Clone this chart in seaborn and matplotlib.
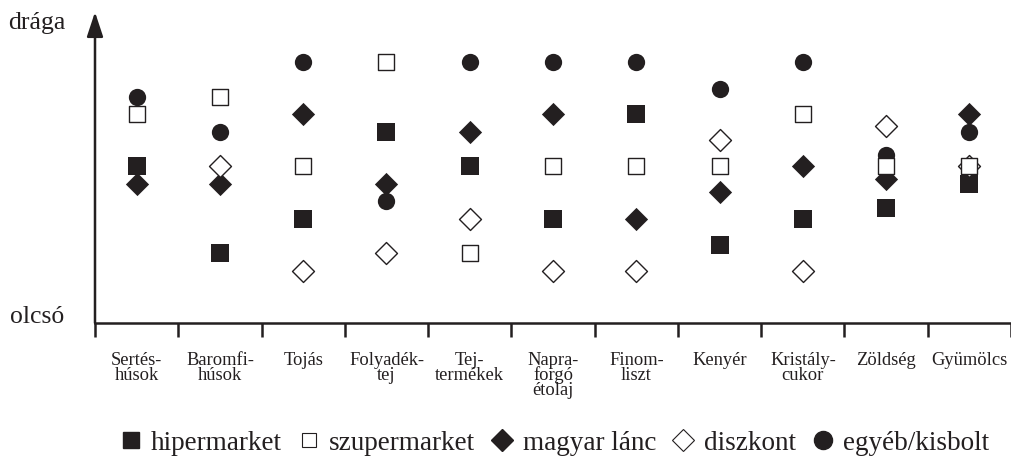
import numpy as np
import pandas as pd
import matplotlib
matplotlib.use("Agg")
import matplotlib.pyplot as plt
from matplotlib.lines import Line2D
import seaborn as sns

# price level of each store type per product group (1 = cheapest row, 13 = most expensive row)
categories = ["Sertés-\nhúsok", "Baromfi-\nhúsok", "Tojás", "Folyadék-\ntej",
              "Tej-\ntermékek", "Napra-\nforgó\nétolaj", "Finom-\nliszt", "Kenyér",
              "Kristály-\ncukor", "Zöldség", "Gyümölcs"]
hipermarket  = [7, 2, 4, 9, 7, 4, 10, 2.5, 4, 4.6, 6]
szupermarket = [10, 11, 7, 13, 2, 7, 7, 7, 10, 7, 7]
magyar_lanc  = [6, 6, 10, 6, 9, 10, 4, 5.5, 7, 6.3, 10]
diszkont     = [np.nan, 7, 1, 2, 4, 1, 1, 8.5, 1, 9.3, 7]
egyeb        = [11, 9, 13, 5, 13, 13, 13, 11.45, 13, 7.65, 9]

INK = "#231f20"

sns.set_theme(style="white")
plt.rcParams["font.family"] = ["Liberation Serif", "DejaVu Serif"]

# drawing order: open square last so it sits on top
series = [
    ("hipermarket",    hipermarket,  "s", INK,     155),
    ("magyar lánc",    magyar_lanc,  "D", INK,     140),
    ("diszkont",       diszkont,     "D", "white", 125),
    ("egyéb/kisbolt",  egyeb,        "o", INK,     155),
    ("szupermarket",   szupermarket, "s", "white", 125),
]

fig = plt.figure(figsize=(10.11, 4.62), dpi=100)
ax = fig.add_axes([95 / 1011, (462 - 323) / 462, 1 - 95 / 1011, (323 - 12) / 462])

x = np.arange(len(categories))
for name, vals, marker, face, size in series:
    df = pd.DataFrame({"x": x, "y": vals}).dropna()
    sns.scatterplot(data=df, x="x", y="y", marker=marker, s=size, color=face,
                    edgecolor=INK, linewidth=0 if face == INK else 1.0,
                    ax=ax, legend=False, clip_on=False)

ax.set_xlim(-0.5, len(categories) - 0.5)
ax.set_ylim(-2.0, 15.87)
ax.set_xlabel("")
ax.set_ylabel("")

for s in ["top", "right", "left"]:
    ax.spines[s].set_visible(False)
ax.spines["bottom"].set_linewidth(1.8)
ax.spines["bottom"].set_color(INK)

# y axis as an arrow
ax.annotate("", xy=(0, 1), xytext=(0, 0), xycoords="axes fraction",
            arrowprops=dict(arrowstyle="-|>,head_length=1.0,head_width=0.33",
                            mutation_scale=15, lw=1.8, color=INK,
                            shrinkA=0, shrinkB=0))

ax.set_yticks([])
ax.set_xticks(np.arange(-0.5, len(categories)))
ax.set_xticklabels([])
ax.set_xticks(x, minor=True)
ax.set_xticklabels(categories, minor=True, fontsize=13.3, linespacing=0.8,
                   color=INK)
ax.tick_params(axis="x", which="major", direction="out", length=10, width=1.8,
               color=INK, bottom=True)
ax.tick_params(axis="x", which="minor", length=0, pad=21)

fig.text(8 / 1011, 1 - 23 / 462, "drága", ha="left", va="center",
         fontsize=18.5, color=INK)
fig.text(10 / 1011, 1 - 317 / 462, "olcsó", ha="left", va="center",
         fontsize=18.5, color=INK)

handles = [
    Line2D([], [], ls="", marker="s", ms=12, mfc=INK, mec=INK),
    Line2D([], [], ls="", marker="s", ms=9.5, mfc="white", mec=INK, mew=0.8),
    Line2D([], [], ls="", marker="D", ms=11.5, mfc=INK, mec=INK),
    Line2D([], [], ls="", marker="D", ms=11, mfc="white", mec=INK, mew=0.8),
    Line2D([], [], ls="", marker="o", ms=13, mfc=INK, mec=INK),
]
labels = ["hipermarket", "szupermarket", "magyar lánc", "diszkont", "egyéb/kisbolt"]
fig.legend(handles, labels, loc="center", bbox_to_anchor=(0.549, 1 - 443 / 462),
           ncol=5, frameon=False, fontsize=19.5, handlelength=0.7,
           handletextpad=0.4, columnspacing=0.65, borderpad=0, labelcolor=INK)

fig.savefig("out.png", dpi=100)
